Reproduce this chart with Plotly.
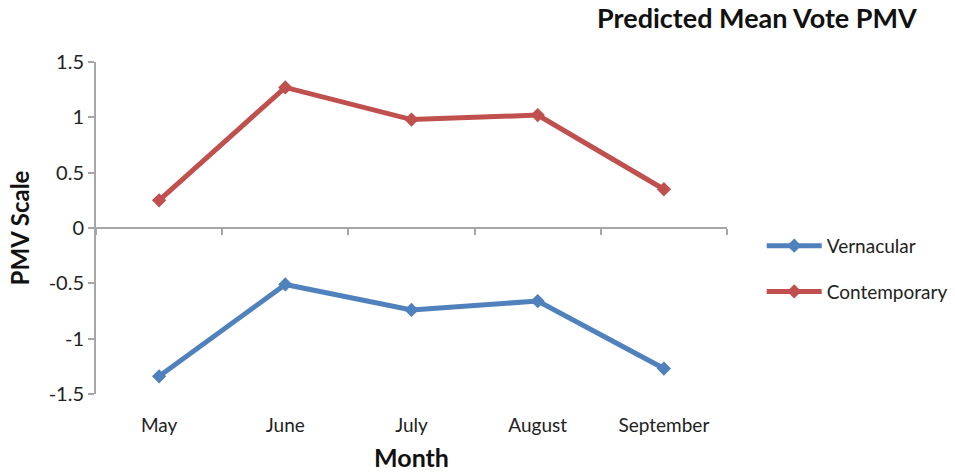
import plotly.graph_objects as go

months = ["May", "June", "July", "August", "September"]
vernacular = [-1.34, -0.51, -0.74, -0.66, -1.27]
contemporary = [0.25, 1.27, 0.98, 1.02, 0.35]
y_ticks = [-1.5, -1, -0.5, 0, 0.5, 1, 1.5]

FONT = "Lato"
AXIS_COLOR = "#A6A6A6"

fig = go.Figure()
fig.add_trace(go.Scatter(x=months, y=vernacular, name="Vernacular", mode="lines+markers",
                         line=dict(color="#4F81BD", width=5),
                         marker=dict(symbol="diamond", size=11, color="#4F81BD"),
                         xaxis="x2", legendgroup="v"))
fig.add_trace(go.Scatter(x=months, y=contemporary, name="Contemporary", mode="lines+markers",
                         line=dict(color="#C0504D", width=5),
                         marker=dict(symbol="diamond", size=11, color="#C0504D"),
                         xaxis="x2", legendgroup="c"))
# invisible trace so the zero-positioned axis is drawn
fig.add_trace(go.Scatter(x=months, y=[0]*len(months), mode="markers", opacity=0,
                         showlegend=False, hoverinfo="skip", xaxis="x"))

fig.update_layout(
    width=955, height=472,
    margin=dict(l=96, r=228, t=62, b=78, autoexpand=False),
    paper_bgcolor="white", plot_bgcolor="white",
    font=dict(family=FONT, color="#222222", size=19),
    title=dict(text="<b>Predicted Mean Vote PMV</b>", x=0.96, xanchor="right",
               y=0.98, yanchor="top", font=dict(size=27, color="#111111")),
    xaxis=dict(type="category", categoryarray=months, range=[-0.5, 4.5],
               anchor="free", position=0.5, showline=True, linecolor=AXIS_COLOR,
               linewidth=2, ticks="outside", tickson="boundaries", ticklen=6,
               tickcolor=AXIS_COLOR, tickwidth=2, showticklabels=False,
               showgrid=False, zeroline=False, automargin=False),
    xaxis2=dict(type="category", categoryarray=months, range=[-0.5, 4.5],
                overlaying="x", anchor="y", side="bottom", showline=False,
                ticks="outside", ticklen=14, tickcolor="rgba(0,0,0,0)",
                showgrid=False, zeroline=False, automargin=False,
                tickfont=dict(size=19, color="#222222"),
                title=dict(text="<b>Month</b>", font=dict(size=25, color="#111111"), standoff=14)),
    yaxis=dict(range=[-1.5, 1.5], tickvals=y_ticks, ticktext=["-1.5", "-1", "-0.5", "0", "0.5", "1", "1.5"],
               showline=True, linecolor=AXIS_COLOR, linewidth=2,
               ticks="outside", ticklen=6, tickcolor=AXIS_COLOR, tickwidth=2,
               showgrid=False, zeroline=False, automargin=False,
               tickfont=dict(size=20, color="#222222"),
               title=dict(text="<b>PMV Scale</b>", font=dict(size=24, color="#111111"), standoff=12)),
    legend=dict(x=1.055, y=0.377, xanchor="left", yanchor="middle",
                font=dict(size=19, color="#222222"), tracegroupgap=18,
                traceorder="grouped", itemwidth=55),
    showlegend=True,
)

fig.write_html("out.html")
